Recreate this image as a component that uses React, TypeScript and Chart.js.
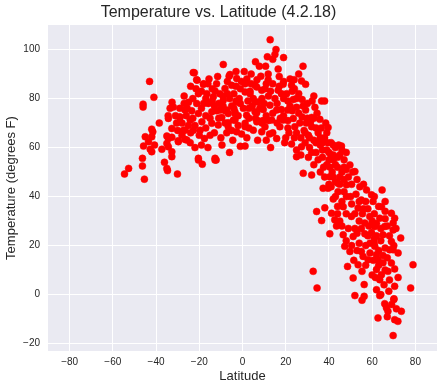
import React, { useEffect, useRef } from 'react';
import { Chart, registerables } from 'chart.js';

Chart.register(...registerables);

// [latitude, temperature] readings, grouped by latitude band
const southPoints: number[][] = [
  [-54.6, 49.2], [-52.7, 51.5], [-46.3, 55.6], [-46.3, 52.5], [-45.4, 47.1], [-45.8, 60.6], [-45, 64.4],
  [-43.5, 62.4], [-42, 64.4], [-41.5, 66.4], [-42, 58.3], [-42.7, 59.3], [-40.7, 61], [-42, 67.5],
  [-43, 87], [-41, 80.5], [-46, 77.7], [-46, 76.5],
  [-38.5, 70], [-36.1, 54], [-35, 51.5], [-34.7, 50.6], [-30.1, 49.2], [-35, 64.7], [-32.7, 64.2],
  [-35, 61.7], [-34.3, 60.3], [-37.3, 59.3], [-32.7, 58.3], [-32.7, 56.3], [-34.4, 73], [-32.6, 78.5],
  [-32, 76.5], [-33.5, 76], [-34.3, 71.9], [-32.7, 67.8], [-34.3, 63.7], [-30.5, 70], [-31, 73],
];

const southTropicPoints: number[][] = [
  [-29, 72.4], [-25.6, 76], [-25, 78.5], [-29.7, 62.4], [-26.6, 67.1], [-26.6, 63.3], [-24.2, 62],
  [-22.7, 67.1], [-21.2, 78], [-26.6, 75.3], [-20.4, 73.9], [-28.9, 72.5], [-24.2, 71.2], [-27.3, 67.1],
  [-29.7, 62.8], [-25.8, 63.1], [-22.8, 90.6], [-21, 87.5], [-22.3, 90.5], [-21.2, 87.7], [-20.4, 82],
  [-20.4, 54.9], [-20.4, 55.6], [-23, 80], [-27, 81], [-28, 70], [-22, 69], [-23.5, 75], [-21.5, 84], [-26, 73],
  [-18, 86], [-19.6, 67.1], [-17.6, 63.7], [-12.7, 54.9], [-18.6, 53.2], [-18.1, 85.8], [-12.7, 83.1],
  [-16.5, 82], [-13.5, 80.7], [-15.8, 78], [-14.2, 74.6], [-10.4, 75.3], [-18.8, 70.5], [-14.2, 69.9],
  [-11.2, 69.2], [-12.7, 55.6], [-11.5, 89], [-12.2, 54.9], [-19, 76], [-17, 80], [-15, 72], [-13, 66],
  [-16, 60], [-11, 78], [-12, 86], [-14, 84], [-17, 73], [-10.5, 82], [-15.5, 88],
  [-8.9, 93.9], [-5.8, 89.8], [-7.3, 75.3], [-3.5, 74.6], [-9.6, 72.3], [-4.2, 71.2], [-6.6, 68.5],
  [-7.3, 66], [-2.7, 66.4], [-0.4, 65.5], [-6.2, 89.1], [-2.7, 88.2], [-5, 85.4], [-8.1, 84.1],
  [-8.9, 79.3], [-2.7, 78.6], [-6.6, 73.9], [-3.5, 73.9], [-6.6, 70.1], [-3.5, 71.2], [-9, 81], [-4, 82],
  [-1, 84], [-7, 87], [-3, 91], [-1.5, 80], [-5, 77], [-8, 75], [-2, 69], [-4.5, 63], [-9.5, 61],
  [-1, 60.5], [-6, 58], [-3, 79], [-0.5, 87],
  [-24, 85], [-19, 83], [-16, 86], [-13, 77], [-9, 77], [-6, 80], [-4, 76], [-1, 78], [-8, 70], [-5, 67],
  [-11, 72], [-14, 79], [-18, 78], [-20, 65], [-23, 72], [-27, 78], [-28, 65], [-25, 69], [-17, 68],
  [-10, 64], [-2, 73], [-7, 82], [-3, 85], [-12, 75], [-19, 61], [-15, 65], [-22, 60], [-30, 67],
  [-29, 76], [-24, 66],
];

const northTropicPoints: number[][] = [
  [0.4, 76], [1.2, 86], [3.5, 83], [6.6, 84.7], [7.3, 78.6], [5.8, 74.6], [9.6, 75.5], [1.9, 73.2],
  [7.3, 70.9], [1.2, 68.5], [6.7, 87.7], [7.8, 93.2], [8.5, 89.1], [5.8, 85.4], [1.2, 82.7], [3.5, 82],
  [8.9, 83.4], [5.8, 78.6], [6.6, 74.2], [1.2, 69.9], [6.6, 70.5], [5, 67.1], [8.9, 66.4], [1.2, 60.6],
  [4, 90], [2.5, 79], [9, 80], [3, 72], [7, 63], [4.5, 77], [0.8, 91], [9.5, 71], [2, 64], [6, 95],
  [12.8, 104], [15.5, 100], [15, 98], [11.5, 97], [19, 96.7], [14, 96], [10.7, 93.2], [11.9, 90],
  [11.9, 87.7], [18.8, 85.8], [16.5, 83.4], [12.7, 77.3], [15.8, 75.3], [13.5, 71.2], [18.8, 71.2],
  [10.4, 68.5], [17.3, 68.5], [15.8, 63.7], [14, 86], [17, 89], [12, 81], [19, 80], [16, 78], [11, 73],
  [18, 75.5], [14, 66], [19.5, 62], [13, 60], [16.5, 92], [10.5, 84], [17.5, 72], [12.5, 65.5], [19, 87],
  [28, 93.2], [23.9, 87.7], [27.3, 87.2], [29.2, 85.8], [22.7, 85.4], [20.4, 82], [23.5, 79.6],
  [27.6, 79.6], [20.9, 75.3], [25, 76.4], [29.2, 75.3], [23.5, 71.9], [27.6, 72.5], [24.2, 68.5],
  [22.7, 61.4], [25, 59], [25, 56.3], [28.1, 49.5], [27.3, 60.3], [21, 71], [26, 82], [22, 77],
  [28.5, 67], [24, 64], [29, 62], [26.5, 70], [21.5, 66], [27, 57], [23, 83], [29.5, 70],
  [2, 88], [5, 80], [8, 76], [10, 78], [11, 86], [13, 83], [15, 80], [17, 85], [14, 74], [16, 70],
  [19, 73], [21, 79], [22, 88], [24, 84], [25, 80], [26, 74], [28, 77], [23, 75], [21, 68], [25, 66],
  [27, 64], [29, 66], [20, 64], [3, 76], [6, 72], [9, 70], [12, 71], [4, 86], [18, 82], [26, 90],
  [3, 68], [11, 63],
];

const northMidPoints: number[][] = [
  [32.2, 79], [36.6, 79], [33.5, 76.4], [32, 72.3], [35.8, 71.5], [32, 68.5], [38, 79], [39.6, 68.2],
  [32, 48.8], [37.3, 43.4], [34.3, 33.9], [36.6, 30.2], [38.1, 35.4], [39.6, 43.4], [32.7, 9.5], [34.5, 2.7],
  [30.5, 65], [31, 60], [33, 63], [34, 58], [35, 66], [36, 61], [37, 56], [38, 64], [39, 59], [30.5, 56],
  [33, 53], [35, 55], [37.5, 52], [39, 53], [31.5, 70.5], [34.5, 74], [36.5, 68], [38.5, 70], [30, 78],
  [33, 81], [35.5, 62.5], [37, 59], [39.5, 62],
  [40.4, 48.1], [45.8, 60.6], [49.7, 52.9], [48.1, 44.8], [41.2, 33.2], [44.2, 42], [48.1, 40],
  [46.6, 35.9], [42.7, 30.5], [44.2, 45.4], [40.4, 24.8], [46.6, 24.4], [47.3, 19.7], [49.7, 17.6],
  [48.6, 11.5], [40, 58], [41, 62], [42, 55], [43, 60], [44, 52], [45, 57], [46, 50], [47, 55], [48, 58],
  [41.5, 50], [43, 46], [45, 48], [47, 47], [49, 48], [42, 39], [44, 36], [46, 38], [48, 33], [41, 44],
  [43.5, 28], [45, 30], [49, 27], [42, 57], [40.5, 52], [44.5, 61],
  [31, 64], [32, 58], [34, 62], [36, 64], [37, 62], [39, 66], [40, 55], [41, 57], [42, 61], [43, 53],
  [44, 56], [46, 59], [47, 52], [48, 51], [45, 45], [42, 48], [40, 45], [38, 48], [36, 50], [34, 68],
  [33, 72], [30, 72], [47, 42], [50, 40], [44, 33], [46, 28], [48, 22], [43, 40],
];

const northHighPoints: number[][] = [
  [52, 50.2], [54.3, 44], [57.4, 42.7], [59.7, 40.7], [55, 38.6], [53.5, 35.3], [50.4, 31.9], [58.9, 31.9],
  [56.6, 29.2], [51.2, 23.7], [56.6, 24.8], [59.7, 25.3], [55, 17.6], [55.8, 15.6], [58.1, 14.2],
  [53.5, 12.2], [55.3, 9.5], [51.2, 6.8], [56.3, 4.1], [52, -0.4], [56.3, -0.7], [55.3, -2.3], [51, 50],
  [53, 47], [50.5, 45], [52.5, 41], [57, 38], [54, 30], [58, 35], [50.5, 37], [52, 27], [57, 20], [59, 17],
  [54, 21], [50.5, 20], [53, 25], [58.5, 28], [55.5, 33], [51.5, 14],
  [64.6, 42.7], [60.4, 38], [64.3, 35.9], [68.9, 33.2], [63.5, 31.2], [69.7, 29.2], [61.2, 27.8],
  [65.8, 27.8], [65, 24.4], [69.7, 26.4], [68.9, 21.7], [60.9, 21], [61.2, 19.7], [62, 16.3], [68.1, 18.3],
  [69.7, 18.3], [62.7, 14.2], [68.9, 12.9], [62, 10.2], [64.3, 8.1], [63.5, 6.1], [67.3, 9.5], [67.7, 1.4],
  [63.5, -0.4], [65.8, -3.7], [66.6, -5.4], [67.3, -6.8], [62.7, -9.5], [69.7, -16.7], [61, 33], [62, 29],
  [63, 36], [66, 31], [67, 28], [64, 22], [66, 19], [60.5, 14], [65, 13], [67, 15], [61.5, 7], [65.5, 4],
  [70.4, 31.2], [73.2, 23.1], [78.9, 12.2], [70.4, 10.5], [70.4, 3.4], [77.8, 2.7], [70.1, -1.7],
  [71.2, -5.8], [73.5, -6.8], [70.4, -10.2], [71.9, -10.9], [70, -2], [72, 17], [71, 27], [72, 7],
  [52, 33], [54, 38], [56, 35], [58, 24], [60, 30], [62, 24], [64, 27], [66, 34], [68, 24], [63, 18],
  [65, 16], [61, 23], [59, 21], [57, 12], [60, 8], [66, 10], [68, 6], [62, 2], [64, 0], [69, -4],
  [67, -9], [53, 18], [55, 27], [56, 45], [61, 40], [63, 12], [66, 38], [70, 20],
];

const xTickValues = [-80, -60, -40, -20, 0, 20, 40, 60, 80];
const yTickValues = [-20, 0, 20, 40, 60, 80, 100];

const TEXT = '#262626';
const FONT = "'Liberation Sans', Arial, sans-serif";
const fmt = (v: number) => (v < 0 ? '\u2212' + Math.abs(v) : String(v));

const bgPlugin = {
  id: 'plotBg',
  beforeDraw(chart: any) {
    const { ctx, chartArea } = chart;
    if (!chartArea) return;
    ctx.save();
    ctx.fillStyle = '#EAEAF2';
    ctx.fillRect(chartArea.left, chartArea.top, chartArea.right - chartArea.left, chartArea.bottom - chartArea.top);
    ctx.restore();
  },
};

export default function App() {
  const ref = useRef<HTMLCanvasElement>(null);
  useEffect(() => {
    if (!ref.current) return;
    const all = [...southPoints, ...southTropicPoints, ...northTropicPoints, ...northMidPoints, ...northHighPoints];
    const chart = new Chart(ref.current, {
      type: 'scatter',
      data: {
        datasets: [
          {
            data: all.map(([x, y]) => ({ x, y })),
            backgroundColor: '#ff0000',
            borderColor: '#ff0000',
            borderWidth: 0.5,
            pointRadius: 3.5,
          },
        ],
      },
      options: {
        animation: false,
        responsive: false,
        layout: { padding: { left: 0, right: 8, top: 0, bottom: 0 } },
        plugins: {
          legend: { display: false },
          tooltip: { enabled: false },
          title: {
            display: true,
            text: 'Temperature vs. Latitude (4.2.18)',
            color: TEXT,
            font: { family: FONT, size: 16, weight: 'normal' },
            padding: { top: 3, bottom: 2.8 },
          },
        },
        scales: {
          x: {
            type: 'linear',
            min: -90,
            max: 90,
            afterBuildTicks: (s: any) => {
              s.ticks = xTickValues.map((v) => ({ value: v }));
            },
            afterFit: (s: any) => {
              s.height = 39;
            },
            grid: { color: '#ffffff', lineWidth: 1, drawTicks: false },
            border: { display: false },
            ticks: {
              color: TEXT,
              font: { family: FONT, size: 10 },
              padding: 5,
              callback: (v: any) => fmt(Number(v)),
            },
            title: {
              display: true,
              text: 'Latitude',
              color: TEXT,
              font: { family: FONT, size: 13 },
              padding: { top: 0, bottom: 6 },
            },
          },
          y: {
            type: 'linear',
            min: -23,
            max: 110,
            afterBuildTicks: (s: any) => {
              s.ticks = yTickValues.map((v) => ({ value: v }));
            },
            afterFit: (s: any) => {
              s.width = 48;
            },
            grid: { color: '#ffffff', lineWidth: 1, drawTicks: false },
            border: { display: false },
            ticks: {
              color: TEXT,
              font: { family: FONT, size: 10 },
              padding: 8,
              callback: (v: any) => fmt(Number(v)),
            },
            title: {
              display: true,
              text: 'Temperature (degrees F)',
              color: TEXT,
              font: { family: FONT, size: 13 },
              padding: { top: 4, bottom: 0 },
            },
          },
        },
      },
      plugins: [bgPlugin],
    });
    return () => chart.destroy();
  }, []);
  return (
    <div style={{ position: 'fixed', left: 0, top: 0, width: 445, height: 390, background: '#fff' }}>
      <canvas ref={ref} width={445} height={390} style={{ width: 445, height: 390, display: 'block' }} />
    </div>
  );
}
